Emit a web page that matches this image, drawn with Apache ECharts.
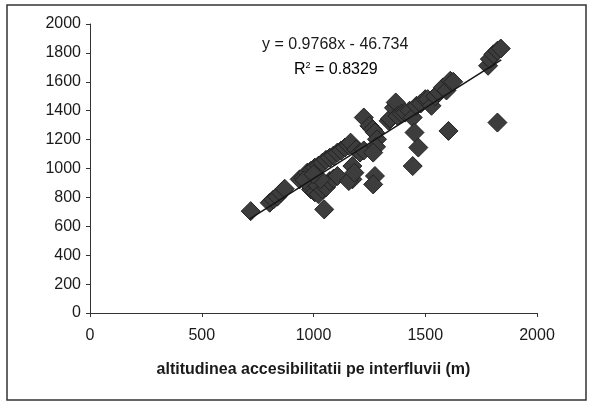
<!DOCTYPE html>
<html>
<head>
<meta charset="utf-8">
<script src="https://cdn.jsdelivr.net/npm/echarts@6/dist/echarts.min.js"></script>
<style>html,body{margin:0;padding:0;background:#fff}#c{width:590px;height:403px}</style>
</head>
<body>
<div id="c"></div>
<script>
// Data (x = altitudinea accesibilitatii pe interfluvii, y = altitude)
const pointsX = [719,804,821,838,854,871,1048,
  938,955,972,989,1006,1023,1040,1056,1073,1090,1107,1124,1141,1158,1166,
  989,1006,1023,1040,1056,1073,1090,1107,998,1031,960,1000,
  1174,1174,1158,1183,1191,1208,1225,
  1225,1250,1265,1275,1284,1280,1267,1275,1267,
  1336,1343,1360,1368,1376,1395,1410,1430,1444,1461,1480,1500,1511,1528,1545,1562,1579,1595,1612,1625,
  1452,1469,1444,1604,1823,
  1781,1789,1805,1823,1838];
const pointsY = [705,763,786,805,832,860,717,
  925,935,971,985,1006,1020,1040,1060,1075,1090,1110,1125,1145,1160,1179,
  855,835,821,855,870,913,930,948,913,925,920,960,
  1017,925,913,971,1133,1110,1125,
  1353,1295,1270,1249,1202,1150,1110,948,890,
  1330,1345,1420,1457,1364,1380,1387,1400,1353,1434,1450,1480,1480,1434,1500,1526,1561,1540,1607,1600,
  1249,1145,1017,1260,1318,
  1711,1757,1790,1815,1830];
const trendX = [715, 1840];
const trendY = [652, 1751];
const xTicks = [0, 500, 1000, 1500, 2000];
const yTicks = [0, 200, 400, 600, 800, 1000, 1200, 1400, 1600, 1800, 2000];
const equationText = 'y = 0.9768x - 46.734';
const r2Value = '0.8329';
const xName = 'altitudinea accesibilitatii pe interfluvii (m)';

const scatterData = pointsX.map((x, i) => [x, pointsY[i]]);
const trendData = trendX.map((x, i) => [x, trendY[i]]);

const chart = echarts.init(document.getElementById('c'), null, {renderer: 'canvas'});
const font = 'Liberation Sans, Arial, sans-serif';
chart.setOption({
  animation: false,
  backgroundColor: '#fff',
  textStyle: {fontFamily: font},
  grid: {left: 90, right: 53, top: 24, bottom: 90},
  xAxis: {
    type: 'value', min: xTicks[0], max: xTicks[xTicks.length - 1], interval: 500,
    axisLine: {show: true, onZero: false, lineStyle: {color: '#333', width: 1}},
    axisTick: {show: true, length: 4, lineStyle: {color: '#333'}},
    splitLine: {show: false},
    axisLabel: {fontSize: 16, color: '#1a1a1a', margin: 15, fontFamily: font, formatter: v => String(v)},
    name: xName, nameLocation: 'middle', nameGap: 49,
    nameTextStyle: {fontSize: 16, fontWeight: 'bold', color: '#1a1a1a', fontFamily: font}
  },
  yAxis: {
    type: 'value', min: yTicks[0], max: yTicks[yTicks.length - 1], interval: 200,
    axisLine: {show: true, onZero: false, lineStyle: {color: '#333', width: 1}},
    axisTick: {show: true, length: 4, lineStyle: {color: '#333'}},
    splitLine: {show: false},
    axisLabel: {fontSize: 16, color: '#1a1a1a', margin: 9, fontFamily: font, formatter: v => String(v)}
  },
  graphic: [
    {type: 'rect', shape: {x: 7, y: 5, width: 579, height: 395}, style: {fill: 'none', stroke: '#333', lineWidth: 1.5}, z: -1},
    {type: 'text', left: 262, top: 37, style: {text: equationText, font: '16px ' + font, fill: '#1a1a1a'}},
    {type: 'text', left: 294, top: 61, style: {
      text: '{n|R}{s|2}{n| = ' + r2Value + '}',
      rich: {n: {fontSize: 16, fontFamily: font, color: '#1a1a1a', verticalAlign: 'bottom'},
             s: {fontSize: 9, fontFamily: font, color: '#1a1a1a', verticalAlign: 'top', padding: [0, 0, 8, 0]}}}}
  ],
  series: [
    {type: 'scatter', data: scatterData, symbol: 'diamond', symbolSize: 19,
     itemStyle: {color: '#3d3d3d', borderColor: '#222', borderWidth: 1, opacity: 1}, z: 2},
    {type: 'line', data: trendData, symbol: 'none', lineStyle: {color: '#151515', width: 1.5}, z: 3}
  ]
});
</script>
</body>
</html>
